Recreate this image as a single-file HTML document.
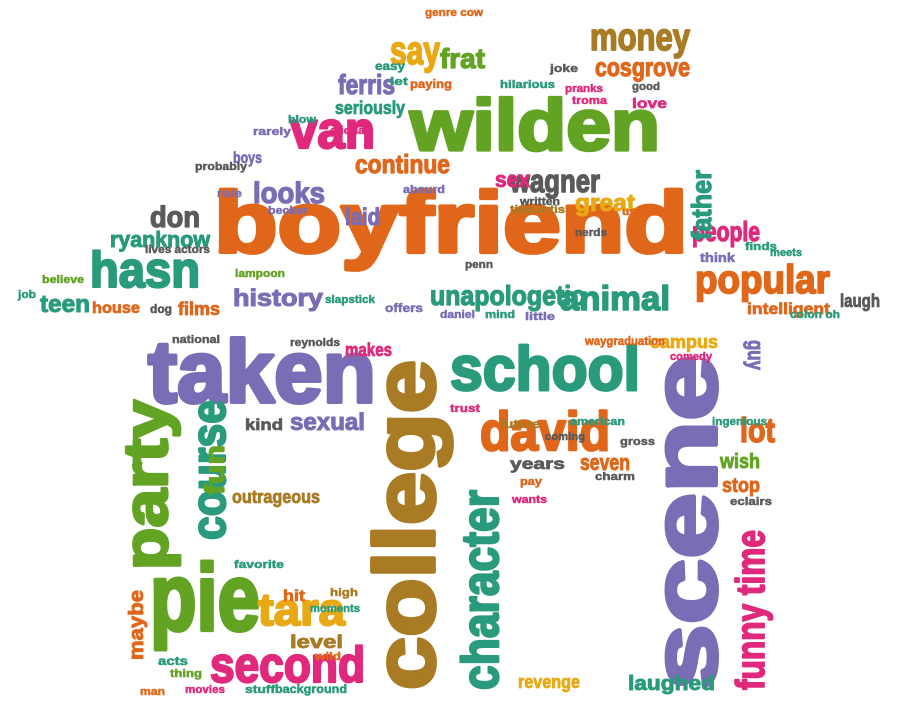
<!DOCTYPE html>
<html><head><meta charset="utf-8">
<style>
html,body{margin:0;padding:0;background:#fff;}
svg{display:block;}
text{font-family:"Liberation Sans",sans-serif;font-weight:bold;stroke-linejoin:round;}
</style></head>
<body>
<svg id="cloud" width="900" height="705" viewBox="0 0 900 705" xmlns="http://www.w3.org/2000/svg"></svg>
<script>
const O='#e0661a',G='#63a324',P='#7b6db5',T='#2a9a7c',K='#e0287c',B='#a97b25',Y='#e8a914',D='#5a5a5a';
// [text, x, baselineY, size, width, color, rotation]
const words=[
['boyfriend',214,252,86,474,O,0],
['wilden',410,150,72,250,G,0],
['van',290,148,52,85,K,0],
['taken',148,402,88,228,P,0],
['school',450,390,62,190,T,0],
['college',434,690,85,330,B,-90],
['scene',716,690,92,335,P,-90],
['pie',150,630,95,110,G,0],
['party',167,570,62,170,G,-90],
['course',225,540,48,140,T,-90],
['david',480,450,55,130,O,0],
['second',210,682,50,155,K,0],
['tara',258,625,45,87,Y,0],
['character',498,690,52,200,T,-90],
['funny time',764,690,40,160,K,-90],
['hasn',90,287,50,110,T,0],
['popular',695,293,40,135,O,0],
['unapologetic',430,305,28,155,T,0],
['animal',560,310,34,110,T,0],
['history',233,306,24,90,P,0],
['looks',253,203,30,72,P,0],
['laid',345,225,24,35,P,0],
['continue',355,173,26,95,O,0],
['wagner',510,192,32,90,D,0],
['sex',495,187,22,35,K,0],
['great',575,211,24,60,Y,0],
['people',692,241,28,68,K,0],
['father',711,240,28,70,T,-90],
['money',590,50,38,100,B,0],
['cosgrove',595,76,26,95,O,0],
['say',390,64,40,50,Y,0],
['frat',440,68,28,45,G,0],
['ferris',338,94,28,57,P,0],
['seriously',335,114,18,70,T,0],
['boys',233,163,16,29,P,0],
['don',150,227,30,50,D,0],
['ryanknow',110,247,22,100,T,0],
['teen',40,312,24,50,T,0],
['house',92,313,16,48,O,0],
['films',178,315,18,42,O,0],
['dog',150,313,12,22,D,0],
['lot',740,442,34,35,O,0],
['wish',720,468,20,40,G,0],
['stop',722,492,20,38,O,0],
['campus',650,348,18,68,Y,0],
['makes',345,356,18,47,K,0],
['sexual',290,430,24,75,P,0],
['kind',245,430,16,38,D,0],
['seven',580,470,22,50,O,0],
['years',510,469,16,55,D,0],
['outrageous',232,503,18,88,B,0],
['fun',224,495,28,50,G,-90],
['level',290,648,18,53,B,0],
['revenge',518,688,18,62,Y,0],
['laughed',628,690,20,87,T,0],
['hit',283,601,16,22,O,0],
['maybe',143,660,20,70,O,-90],
['laugh',840,307,18,40,D,0],
['intelligent',747,314,16,83,O,0],
['guy',748,340,22,30,P,90],
['national',172,343,11,48,D,0],
['reynolds',290,346,11,50,D,0],
['slapstick',325,303,11,50,T,0],
['offers',385,312,12,38,P,0],
['daniel',440,318,11,35,P,0],
['mind',485,318,11,30,T,0],
['little',525,320,11,30,P,0],
['waygraduation',585,345,12,80,O,0],
['comedy',670,360,11,42,K,0],
['ingenious',712,425,11,55,T,0],
['future',500,428,12,40,B,0],
['trust',450,412,11,30,K,0],
['coming',545,440,11,40,D,0],
['american',570,425,11,55,T,0],
['gross',620,445,11,35,D,0],
['pay',520,485,11,22,O,0],
['wants',512,503,11,35,K,0],
['charm',595,480,11,40,D,0],
['eclairs',730,505,11,42,D,0],
['favorite',234,568,11,50,T,0],
['moments',310,612,11,50,T,0],
['high',330,596,11,28,B,0],
['acts',158,665,12,30,T,0],
['thing',170,677,11,32,G,0],
['movies',185,693,11,40,K,0],
['stuff',245,693,11,30,T,0],
['background',275,693,12,72,T,0],
['wild',315,660,11,26,O,0],
['man',140,695,11,25,O,0],
['genre cow',425,16,11,58,O,0],
['easy',375,70,12,30,T,0],
['let',390,85,11,18,T,0],
['paying',410,88,12,42,O,0],
['hilarious',500,88,11,55,T,0],
['joke',550,72,11,28,D,0],
['pranks',565,92,11,38,K,0],
['troma',572,104,11,35,K,0],
['good',632,90,11,28,D,0],
['love',632,108,14,35,K,0],
['blow',288,123,11,28,T,0],
['clichã',330,134,11,35,K,0],
['rarely',253,135,11,38,P,0],
['probably',195,170,11,52,D,0],
['role',217,197,11,25,P,0],
['becker',268,214,11,40,P,0],
['absurd',403,193,11,42,P,0],
['written',520,205,11,40,D,0],
['timcurtis',510,213,11,55,B,0],
['used',622,215,11,28,O,0],
['nerds',575,236,11,32,D,0],
['think',700,262,13,35,P,0],
['finds',745,250,11,32,T,0],
['meets',770,256,11,32,T,0],
['lives actors',145,253,11,65,D,0],
['lampoon',235,277,11,50,G,0],
['believe',42,283,11,42,G,0],
['job',18,298,11,18,T,0],
['penn',465,268,11,28,D,0],
['colon oh',790,318,11,50,T,0]
];
const svg=document.getElementById('cloud');
const NS='http://www.w3.org/2000/svg';
for(const w of words){
  const el=document.createElementNS(NS,'text');
  
  
  el.setAttribute('x',w[1]);el.setAttribute('y',w[2]);
  el.setAttribute('font-size',w[3]);
  el.setAttribute('textLength',w[4]);
  el.setAttribute('lengthAdjust','spacingAndGlyphs');
  el.setAttribute('fill',w[5]);
  el.setAttribute('stroke',w[5]);
  el.setAttribute('stroke-width',Math.min(4,w[3]*0.045));
  if(w[6])el.setAttribute('transform','rotate('+w[6]+' '+w[1]+' '+w[2]+')');
  el.textContent=w[0];
  svg.appendChild(el);
}
</script>
</body></html>
